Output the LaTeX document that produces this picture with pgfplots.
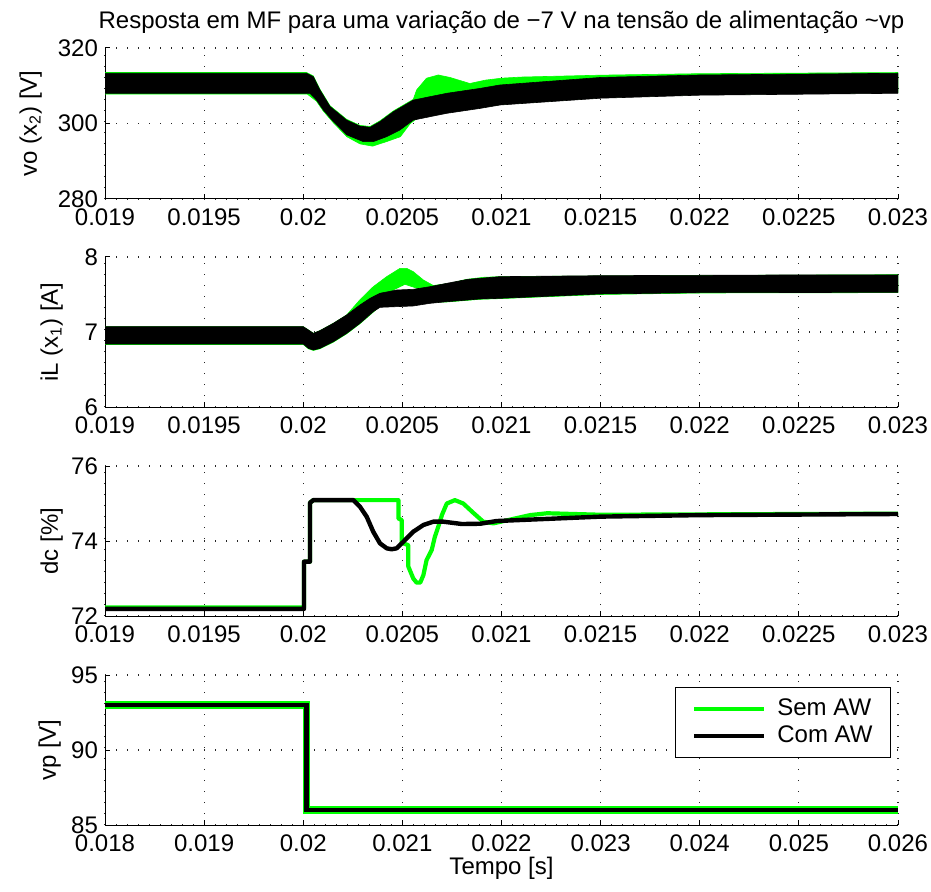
\documentclass[border=0pt]{standalone}
\usepackage{fontspec}
\setmainfont{Liberation Sans}
\usepackage{pgfplots}
\pgfplotsset{compat=1.18}
\definecolor{mgreen}{rgb}{0,1,0}

\pgfplotsset{
  mstyle/.style={
    scale only axis, width=396.5pt, height=75pt,
    axis x line=bottom, axis y line=left,
    axis line style={-, black, line width=0.5pt},
    tick align=inside, major tick length=2.5pt,
    tick style={black, line width=0.5pt},
    scaled x ticks=false, scaled y ticks=false,
    xticklabel style={yshift=-1.2pt},
    grid=major,
    grid style={black!85, line width=0.6pt, dash pattern=on 0.6pt off 4.9pt},
    ylabel style={anchor=base, rotate=0},
    clip=true,
  },
  tx/.style={xmin=0.019, xmax=0.023,
    xtick={0.019,0.0195,0.02,0.0205,0.021,0.0215,0.022,0.0225,0.023},
    xticklabels={0.019,0.0195,0.02,0.0205,0.021,0.0215,0.022,0.0225,0.023}},
}

\begin{document}
\begin{tikzpicture}[font=\fontsize{12}{14}\selectfont]
\useasboundingbox (0,0) rectangle (465.5pt,445.5pt);

% vo (x2)
\begin{axis}[mstyle, tx, at={(52.5pt,346pt)}, anchor=south west, height=75.5pt,
  ymin=280, ymax=320, ytick={280,300,320}, yticklabels={280,300,320},
  ylabel={vo (x\textsubscript{2}) [V]},
  ylabel style={at={(axis description cs:-0.0858,0.5)}},
  title={Resposta em MF para uma variação de −7 V na tensão de alimentação \textasciitilde vp},
  title style={at={(axis description cs:0.5,1)}, anchor=base, yshift=3.5pt}]
\addplot[fill=mgreen, draw=mgreen, line width=0.3pt] coordinates {
 (0.019,313.5) (0.020017,313.5) (0.020051,312.6) (0.020084,309.1) (0.020135,304.7)
 (0.020219,301.1) (0.020286,299.5) (0.020337,299.2) (0.020387,300.7) (0.020454,303.3)
 (0.020555,306.4) (0.020572,308.9) (0.020622,312.0) (0.020681,312.85) (0.02074,312.2)
 (0.02084,310.6) (0.02092,311.5) (0.021,312.0) (0.0211,312.3) (0.0215,312.8)
 (0.022,313.2) (0.023,313.5)
 (0.023,308.2) (0.022,307.7) (0.0215,306.9) (0.021,305.1) (0.020892,304.2)
 (0.020724,302.9) (0.020639,302.0) (0.02058,301.6) (0.02054,300.0) (0.02049,296.5)
 (0.02042,295.2) (0.02035,294.0) (0.020286,294.6) (0.02022,296.5) (0.020152,300.2)
 (0.020101,303.3) (0.020067,305.9) (0.02002,307.8) (0.019,307.8)} -- cycle;
\addplot[fill=black, draw=black, line width=0.3pt] coordinates {
 (0.019,313.3) (0.020017,313.3) (0.020051,312.4) (0.020084,308.9) (0.020135,304.5)
 (0.020219,300.9) (0.020286,299.3) (0.020337,299.0) (0.020387,300.5) (0.020454,303.1)
 (0.020555,306.2) (0.020639,307.1) (0.020724,308.0) (0.020892,309.3) (0.020992,310.2)
 (0.0215,312.2) (0.022,312.85) (0.023,313.3)
 (0.023,308.0) (0.022,307.5) (0.0215,306.7) (0.020992,304.9) (0.020892,304.0)
 (0.020724,302.7) (0.020639,301.8) (0.020555,300.9) (0.020488,298.3) (0.02042,296.5)
 (0.020353,295.2) (0.020303,295.2) (0.020219,297.0) (0.020152,300.5) (0.020101,303.6)
 (0.020067,306.2) (0.020034,308.0) (0.019,308.0)} -- cycle;
\end{axis}

% iL (x1)
\begin{axis}[mstyle, tx, at={(52.5pt,242pt)}, anchor=south west,
  ymin=6, ymax=8, ytick={6,7,8}, yticklabels={6,7,8},
  ylabel={iL (x\textsubscript{1}) [A]},
  ylabel style={at={(axis description cs:-0.0593,0.5)}}]
\addplot[fill=mgreen, draw=mgreen, line width=0.3pt] coordinates {
 (0.019,7.071) (0.02,7.071) (0.020026,7.027) (0.020051,6.982) (0.020084,7.018)
 (0.020152,7.116) (0.020219,7.227) (0.020286,7.43) (0.020353,7.604) (0.020421,7.738)
 (0.020488,7.849) (0.020522,7.849) (0.020555,7.804) (0.020606,7.693) (0.020656,7.62)
 (0.02074,7.649) (0.020824,7.702) (0.020908,7.729) (0.020992,7.738) (0.0215,7.747)
 (0.023,7.764)
 (0.023,7.525) (0.022,7.52) (0.0215,7.5) (0.020992,7.445) (0.02089,7.436)
 (0.020724,7.40) (0.020656,7.40) (0.020606,7.50) (0.020572,7.585) (0.020513,7.636)
 (0.020454,7.56) (0.020421,7.42) (0.020353,7.265) (0.020286,7.11) (0.020219,6.976)
 (0.020152,6.865) (0.020084,6.776) (0.020051,6.754) (0.020026,6.776) (0.02,6.834)
 (0.019,6.834)} -- cycle;
\addplot[fill=black, draw=black, line width=0.3pt] coordinates {
 (0.019,7.071) (0.02,7.071) (0.020026,7.027) (0.020051,6.982) (0.020084,7.018)
 (0.020152,7.116) (0.020219,7.227) (0.020286,7.36) (0.020337,7.449) (0.020387,7.516)
 (0.020471,7.56) (0.020555,7.569) (0.020639,7.604) (0.020724,7.649) (0.02083,7.702)
 (0.020992,7.738) (0.0215,7.751) (0.0224,7.76) (0.023,7.76)
 (0.023,7.529) (0.022,7.524) (0.0215,7.507) (0.020992,7.449) (0.02089,7.44)
 (0.020724,7.404) (0.020639,7.382) (0.020555,7.347) (0.020471,7.338) (0.020387,7.329)
 (0.020353,7.271) (0.020286,7.116) (0.020219,6.982) (0.020152,6.871) (0.020084,6.782)
 (0.020051,6.76) (0.020026,6.782) (0.02,6.84) (0.019,6.84)} -- cycle;
\end{axis}

% dc
\begin{axis}[mstyle, tx, at={(52.5pt,137.5pt)}, anchor=south west,
  ymin=72, ymax=76, ytick={72,74,76}, yticklabels={72,74,76},
  ylabel={dc [\%]},
  ylabel style={at={(axis description cs:-0.0593,0.5)}}]
\addplot[mgreen, line width=2.1pt, line join=round] coordinates {
 (0.019,72.23) (0.020004,72.23) (0.020004,73.45) (0.020034,73.45) (0.020034,75.02)
 (0.020051,75.09) (0.02048,75.09) (0.02048,74.6) (0.020497,74.56) (0.020497,73.95)
 (0.02053,73.89) (0.02053,73.32) (0.020555,73.0) (0.020572,72.89) (0.02059,72.89)
 (0.020606,73.09) (0.020622,73.49) (0.020648,73.76) (0.020664,74.115) (0.020681,74.38)
 (0.0207,74.7) (0.020724,75.0) (0.020765,75.09) (0.020807,75.0) (0.020858,74.75)
 (0.020908,74.515) (0.020959,74.47) (0.021026,74.55) (0.021144,74.69) (0.02123,74.74)
 (0.0215,74.7) (0.023,74.73)};
\addplot[black, line width=2.2pt, line join=round] coordinates {
 (0.019,72.19) (0.020004,72.19) (0.020004,73.45) (0.020034,73.45) (0.020034,75.02)
 (0.020051,75.09) (0.020253,75.09) (0.020286,74.915) (0.02032,74.648) (0.020353,74.248)
 (0.020387,73.938) (0.020421,73.805) (0.020446,73.78) (0.020471,73.805) (0.020505,73.98)
 (0.020555,74.248) (0.020606,74.427) (0.020656,74.515) (0.020707,74.515) (0.0208,74.453)
 (0.020892,74.46) (0.020976,74.533) (0.0215,74.65) (0.022,74.69) (0.023,74.72)};
\end{axis}

% vp
\begin{axis}[mstyle, at={(52.5pt,33pt)}, anchor=south west,
  xmin=0.018, xmax=0.026,
  xtick={0.018,0.019,0.02,0.021,0.022,0.023,0.024,0.025,0.026},
  xticklabels={0.018,0.019,0.02,0.021,0.022,0.023,0.024,0.025,0.026},
  ymin=85, ymax=95, ytick={85,90,95}, yticklabels={85,90,95},
  ylabel={vp [V]},
  ylabel style={at={(axis description cs:-0.0618,0.5)}},
  xlabel={Tempo [s]},
  xlabel style={at={(axis description cs:0.5,0)}, anchor=base, yshift=-24.5pt},
  legend style={at={(1,1)}, anchor=north east, xshift=-3.5pt, yshift=-6pt,
    draw=black, line width=0.5pt, fill=white, inner xsep=8pt, inner ysep=4pt,
    column sep=4.5pt, nodes={inner sep=1pt, text height=9pt, text depth=2.5pt}},
  legend cell align=left,
  legend image code/.code={\draw[#1, line width=2.3pt] (0pt,0pt) -- (35pt,0pt);}]
\addplot[mgreen, line width=3.6pt] coordinates {
 (0.018,93) (0.02003,93) (0.02003,86) (0.026,86)};
\addlegendentry{Sem AW}
\addplot[black, line width=2.4pt] coordinates {
 (0.018,93) (0.02003,93) (0.02003,86) (0.026,86)};
\addlegendentry{Com AW}
\end{axis}
\end{tikzpicture}
\end{document}
